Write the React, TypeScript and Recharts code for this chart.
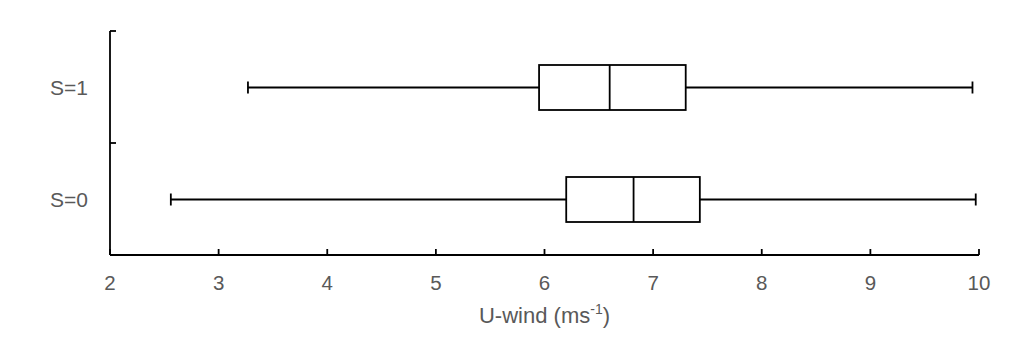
import React from "react";
import { ComposedChart, Bar, XAxis, YAxis } from "recharts";

const categories = ["S=0", "S=1"];
const positions = [0.5, 1.5];
const minValues = [2.56, 3.27];
const q1Values = [6.2, 5.95];
const medianValues = [6.82, 6.6];
const q3Values = [7.43, 7.3];
const maxValues = [9.97, 9.94];
const xTicks = [2, 3, 4, 5, 6, 7, 8, 9, 10];
const yTicks = [0, 0.5, 1, 1.5, 2];

const data = categories.map((name, i) => ({
  name,
  pos: positions[i],
  min: minValues[i],
  q1: q1Values[i],
  median: medianValues[i],
  q3: q3Values[i],
  max: maxValues[i],
  range: [minValues[i], maxValues[i]],
}));

const FONT = "'Liberation Sans', Arial, sans-serif";
const TEXT = "#595959";

const BoxShape = (props: any) => {
  const { x, y, width, height, payload } = props;
  const px = (v: number) => x + ((v - payload.min) / (payload.max - payload.min)) * width;
  const top = Math.min(y, y + height);
  const h = Math.abs(height);
  const cy = top + h / 2;
  const xq1 = px(payload.q1);
  const xq3 = px(payload.q3);
  const xm = px(payload.median);
  const cap = 6;
  const sw = 1.8;
  return (
    <g stroke="#000" strokeWidth={sw} fill="none">
      <line x1={x} y1={cy} x2={xq1} y2={cy} />
      <line x1={xq3} y1={cy} x2={x + width} y2={cy} />
      <line x1={x} y1={cy - cap} x2={x} y2={cy + cap} />
      <line x1={x + width} y1={cy - cap} x2={x + width} y2={cy + cap} />
      <rect x={xq1} y={top} width={xq3 - xq1} height={h} fill="#fff" />
      <line x1={xm} y1={top} x2={xm} y2={top + h} />
    </g>
  );
};

const XTick = (props: any) => {
  const { x, y, payload } = props;
  return (
    <g>
      <line x1={x} y1={y} x2={x} y2={y - 6} stroke="#000" strokeWidth={1.8} />
      <text x={x} y={y + 35} textAnchor="middle" fontFamily={FONT} fontSize={20.5} fill={TEXT}>
        {payload.value}
      </text>
    </g>
  );
};

const YTick = (props: any) => {
  const { x, y, payload } = props;
  const v = payload.value;
  const idx = positions.indexOf(v);
  if (idx >= 0) {
    return (
      <text x={x - 22} y={y + 7.5} textAnchor="end" fontFamily={FONT} fontSize={21} fill={TEXT}>
        {categories[idx]}
      </text>
    );
  }
  return <line x1={x} y1={y} x2={x + 6} y2={y} stroke="#000" strokeWidth={1.8} />;
};

const XLabel = (props: any) => {
  const vb = props.viewBox || {};
  const cx = vb.x + vb.width / 2;
  const by = vb.y + 68;
  return (
    <text x={cx} y={by} textAnchor="middle" fontFamily={FONT} fontSize={22} fill={TEXT}>
      <tspan>U-wind (ms</tspan>
      <tspan fontSize={14} dy={-9}>-1</tspan>
      <tspan dy={9}>)</tspan>
    </text>
  );
};

export default function App() {
  return (
    <div style={{ position: "absolute", left: 0, top: 0, background: "#fff" }}>
      <ComposedChart
        width={1024}
        height={364}
        data={data}
        layout="vertical"
        margin={{ top: 31, right: 45, left: 0, bottom: 0 }}
      >
        <XAxis
          type="number"
          dataKey="median"
          domain={[2, 10]}
          ticks={xTicks}
          allowDataOverflow
          height={109}
          axisLine={{ stroke: "#000", strokeWidth: 1.8 }}
          tickLine={false}
          tickSize={0}
          tickMargin={0}
          tick={<XTick />}
          interval={0}
          label={{ content: (p: any) => <XLabel {...p} /> }}
        />
        <YAxis
          type="number"
          dataKey="pos"
          domain={[0, 2]}
          ticks={yTicks}
          reversed
          allowDataOverflow
          width={110}
          axisLine={{ stroke: "#000", strokeWidth: 1.8 }}
          tickLine={false}
          tickSize={0}
          tickMargin={0}
          tick={<YTick />}
          interval={0}
        />
        <Bar dataKey="range" barSize={45} shape={<BoxShape />} isAnimationActive={false} />
      </ComposedChart>
    </div>
  );
}
